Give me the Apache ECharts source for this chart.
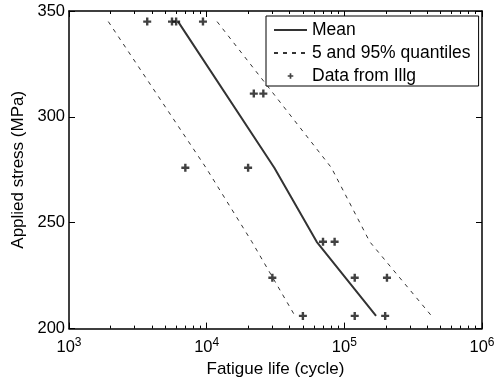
<!DOCTYPE html>
<html><head><meta charset="utf-8">
<script src="https://cdn.jsdelivr.net/npm/echarts@6/dist/echarts.min.js"></script>
<style>html,body{margin:0;padding:0;background:#fff}#c{width:503px;height:383px}</style>
</head><body><div id="c"></div>
<script>
// Experimental data (fatigue life in cycles, applied stress in MPa)
const dataLife = [3700, 5600, 6000, 9400, 22000, 25800, 7000, 20000, 70000, 85000, 30000, 119000, 204000, 50000, 119000, 198000];
const dataStress = [345, 345, 345, 345, 311, 311, 276, 276, 241, 241, 224, 224, 224, 206, 206, 206];
// Mean curve
const meanLife = [6200, 31000, 63000, 170000];
const meanStress = [345, 276, 241, 206];
// 5% quantile
const q05Life = [1930, 9880, 21300, 43800];
const q05Stress = [345, 276, 241, 206];
// 95% quantile
const q95Life = [11900, 80500, 153000, 430000];
const q95Stress = [345, 276, 241, 206];
// Ticks
const xMajorTicks = [1e3, 1e4, 1e5, 1e6];
const xMinorTicks = [2e3,3e3,4e3,5e3,6e3,7e3,8e3,9e3,2e4,3e4,4e4,5e4,6e4,7e4,8e4,9e4,2e5,3e5,4e5,5e5,6e5,7e5,8e5,9e5];
const yTicks = [200, 250, 300, 350];

const FONT = "'Liberation Sans', Arial, sans-serif";
const PLUS = 'path://M0,0M20,20M8.8,6H11.2V8.8H14V11.2H11.2V14H8.8V11.2H6V8.8H8.8Z';

const pairs = (xs, ys) => xs.map((x, i) => [x, ys[i]]);

function xAxisDef(pos, ticks, len, showLine, showLabel) {
  return {
    type: 'log', logBase: 10, min: 1e3, max: 1e6, position: pos, gridIndex: 0,
    splitLine: {show: false}, minorTick: {show: false},
    axisLine: {show: showLine, lineStyle: {color: '#000', width: 1.5}},
    axisTick: {show: true, inside: true, length: len, customValues: ticks, lineStyle: {color: '#000', width: 1}},
    axisLabel: showLabel ? {
      show: true, customValues: ticks, margin: 8, color: '#000', fontFamily: FONT, fontSize: 16.5,
      formatter: v => '10{s|' + Math.round(Math.log10(v)) + '}',
      rich: {s: {fontSize: 12, fontFamily: FONT, color: '#000', padding: [0, 0, 10, 0]}}
    } : {show: false}
  };
}
function yAxisDef(pos, showLabel) {
  return {
    type: 'value', min: 200, max: 350, interval: 50, position: pos,
    splitLine: {show: false},
    axisLine: {show: true, lineStyle: {color: '#000', width: 1.5}},
    axisTick: {show: true, inside: true, length: 6, lineStyle: {color: '#000', width: 1}},
    axisLabel: showLabel ? {show: true, margin: 4, color: '#000', fontFamily: FONT, fontSize: 16.5,
      customValues: yTicks} : {show: false}
  };
}

const xAxes = [
  xAxisDef('bottom', xMajorTicks, 6, true, true),
  xAxisDef('bottom', xMinorTicks, 3, false, false),
  xAxisDef('top', xMajorTicks, 6, true, false),
  xAxisDef('top', xMinorTicks, 3, false, false)
];
Object.assign(xAxes[0], {name: 'Fatigue life (cycle)', nameLocation: 'middle', nameGap: 28,
  nameTextStyle: {fontFamily: FONT, fontSize: 17, color: '#000'}});
const yAxes = [yAxisDef('left', true), yAxisDef('right', false)];
Object.assign(yAxes[0], {name: 'Applied stress (MPa)', nameLocation: 'middle', nameGap: 34,
  nameTextStyle: {fontFamily: FONT, fontSize: 17, color: '#000'}});

const chart = echarts.init(document.getElementById('c'), null, {renderer: 'canvas'});
chart.setOption({
  animation: false,
  backgroundColor: '#fff',
  grid: {left: 69, right: 21, top: 11, bottom: 51, containLabel: false},
  xAxis: xAxes,
  yAxis: yAxes,
  legend: {
    orient: 'vertical', left: 266, top: 16,
    data: [
      {name: 'Mean', itemStyle: {opacity: 0}},
      {name: '5 and 95% quantiles', itemStyle: {opacity: 0}},
      {name: 'Data from Illg'}
    ],
    itemWidth: 33, itemHeight: 14, itemGap: 5,
    padding: [5, 8, 1, 7],
    borderColor: '#000', borderWidth: 1, backgroundColor: '#fff',
    textStyle: {fontFamily: FONT, fontSize: 17.5, color: '#000'},
    selectedMode: false
  },
  series: [
    {name: 'Mean', type: 'line', data: pairs(meanLife, meanStress), symbol: 'none',
      lineStyle: {color: '#333', width: 2}, itemStyle: {color: '#333'}, z: 3},
    {name: '5 and 95% quantiles', type: 'line', data: pairs(q05Life, q05Stress), symbol: 'none',
      lineStyle: {color: '#333', width: 1, type: [4, 5]}, itemStyle: {color: '#333'}},
    {name: '5 and 95% quantiles', type: 'line', data: pairs(q95Life, q95Stress), symbol: 'none',
      lineStyle: {color: '#333', width: 1, type: [4, 5]}, itemStyle: {color: '#333'}},
    {name: 'Data from Illg', type: 'scatter', data: pairs(dataLife, dataStress),
      symbol: PLUS, symbolSize: 20, symbolKeepAspect: true, itemStyle: {color: '#111'}, z: 4}
  ]
});
</script></body></html>
